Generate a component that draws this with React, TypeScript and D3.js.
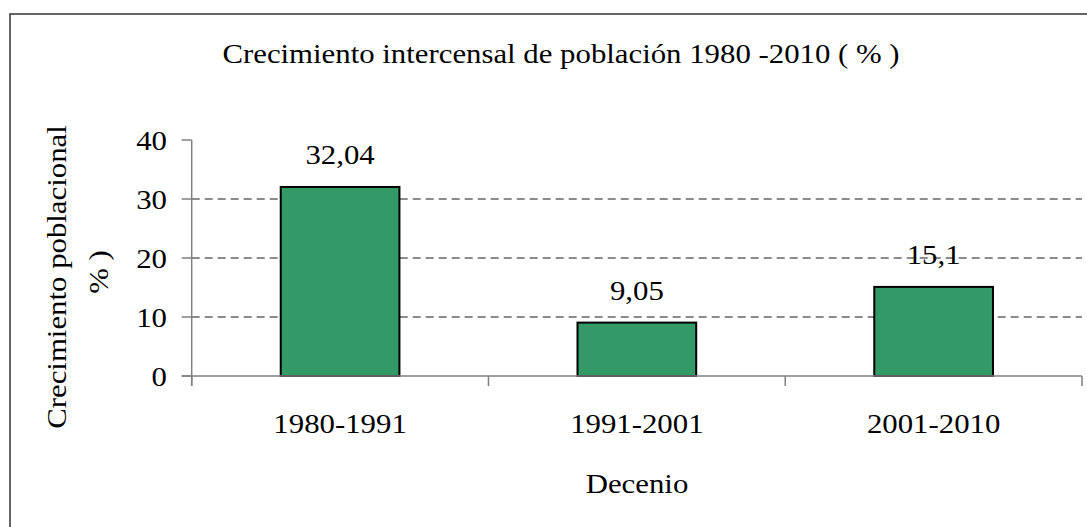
import React from 'react';
import * as d3 from 'd3';

const categories = ['1980-1991', '1991-2001', '2001-2010'];
const values = [32.04, 9.05, 15.1];
const valueLabels = ['32,04', '9,05', '15,1'];
const yTicks = [0, 10, 20, 30, 40];
const gridTicks = [10, 20, 30];

const W = 1087;
const H = 527;
const FONT = '"Liberation Serif", "Times New Roman", serif';
const SX = 1.1; // glyphs in the reference are a bit wider than Liberation Serif

const left = 191.7;
const right = 1082;
const top = 140;
const bottom = 376;

const App = () => {
  const x = d3.scaleBand<string>()
    .domain(categories)
    .range([left, right])
    .paddingInner(0.6)
    .paddingOuter(0.3);
  const y = d3.scaleLinear().domain([0, 40]).range([bottom, top]);
  const step = x.step();
  const boundaries = d3.range(categories.length + 1).map(i => left + i * step);

  const txt = (s: string, tx: number, ty: number, anchor: string, size = 28, rot = 0, key?: string | number) => (
    <text
      key={key}
      transform={`translate(${tx},${ty}) rotate(${rot}) scale(${SX},1)`}
      textAnchor={anchor}
      fontFamily={FONT}
      fontSize={size}
      fill="#000"
    >
      {s}
    </text>
  );

  return (
    <svg width={W} height={H} style={{ position: 'absolute', left: 0, top: 0, background: '#fff' }}>
      <rect x={10} y={14} width={W + 20} height={H + 20} fill="#fff" stroke="#333" strokeWidth={1.5} />

      {/* title */}
      {txt('Crecimiento intercensal de población 1980 -2010 ( % )', 561, 63, 'middle', 28)}

      {/* grid */}
      {gridTicks.map(t => (
        <line key={t} x1={left} x2={right} y1={y(t)} y2={y(t)}
          stroke="#666" strokeWidth={1.3} strokeDasharray="8,5" />
      ))}

      {/* bars */}
      {categories.map((c, i) => (
        <rect key={c} x={x(c)} y={y(values[i])} width={x.bandwidth()} height={bottom - y(values[i])}
          fill="#339966" stroke="#000" strokeWidth={2} />
      ))}

      {/* axes */}
      <line x1={left} x2={left} y1={top} y2={bottom + 10} stroke="#808080" strokeWidth={1.5} />
      <line x1={left - 10} x2={right} y1={bottom} y2={bottom} stroke="#808080" strokeWidth={1.5} />
      {yTicks.map(t => (
        <line key={t} x1={left - 10} x2={left} y1={y(t)} y2={y(t)} stroke="#808080" strokeWidth={1.5} />
      ))}
      {boundaries.map((b, i) => (
        <line key={i} x1={b} x2={b} y1={bottom} y2={bottom + 10} stroke="#808080" strokeWidth={1.5} />
      ))}

      {/* tick labels */}
      {yTicks.map(t => txt(String(t), 167, y(t) + 10, 'end', 28, 0, 't' + t))}
      {categories.map(c => txt(c, (x(c) as number) + x.bandwidth() / 2, 433, 'middle', 28, 0, c))}

      {/* value labels */}
      {categories.map((c, i) => txt(valueLabels[i], (x(c) as number) + x.bandwidth() / 2, y(values[i]) - 23, 'middle', 28, 0, 'v' + i))}

      {/* axis titles */}
      {txt('Decenio', 637, 493, 'middle', 28)}
      {txt('Crecimiento poblacional', 66, 277, 'middle', 28, -90)}
      {txt('% )', 108, 272, 'middle', 28, -90)}
    </svg>
  );
};

export default App;
